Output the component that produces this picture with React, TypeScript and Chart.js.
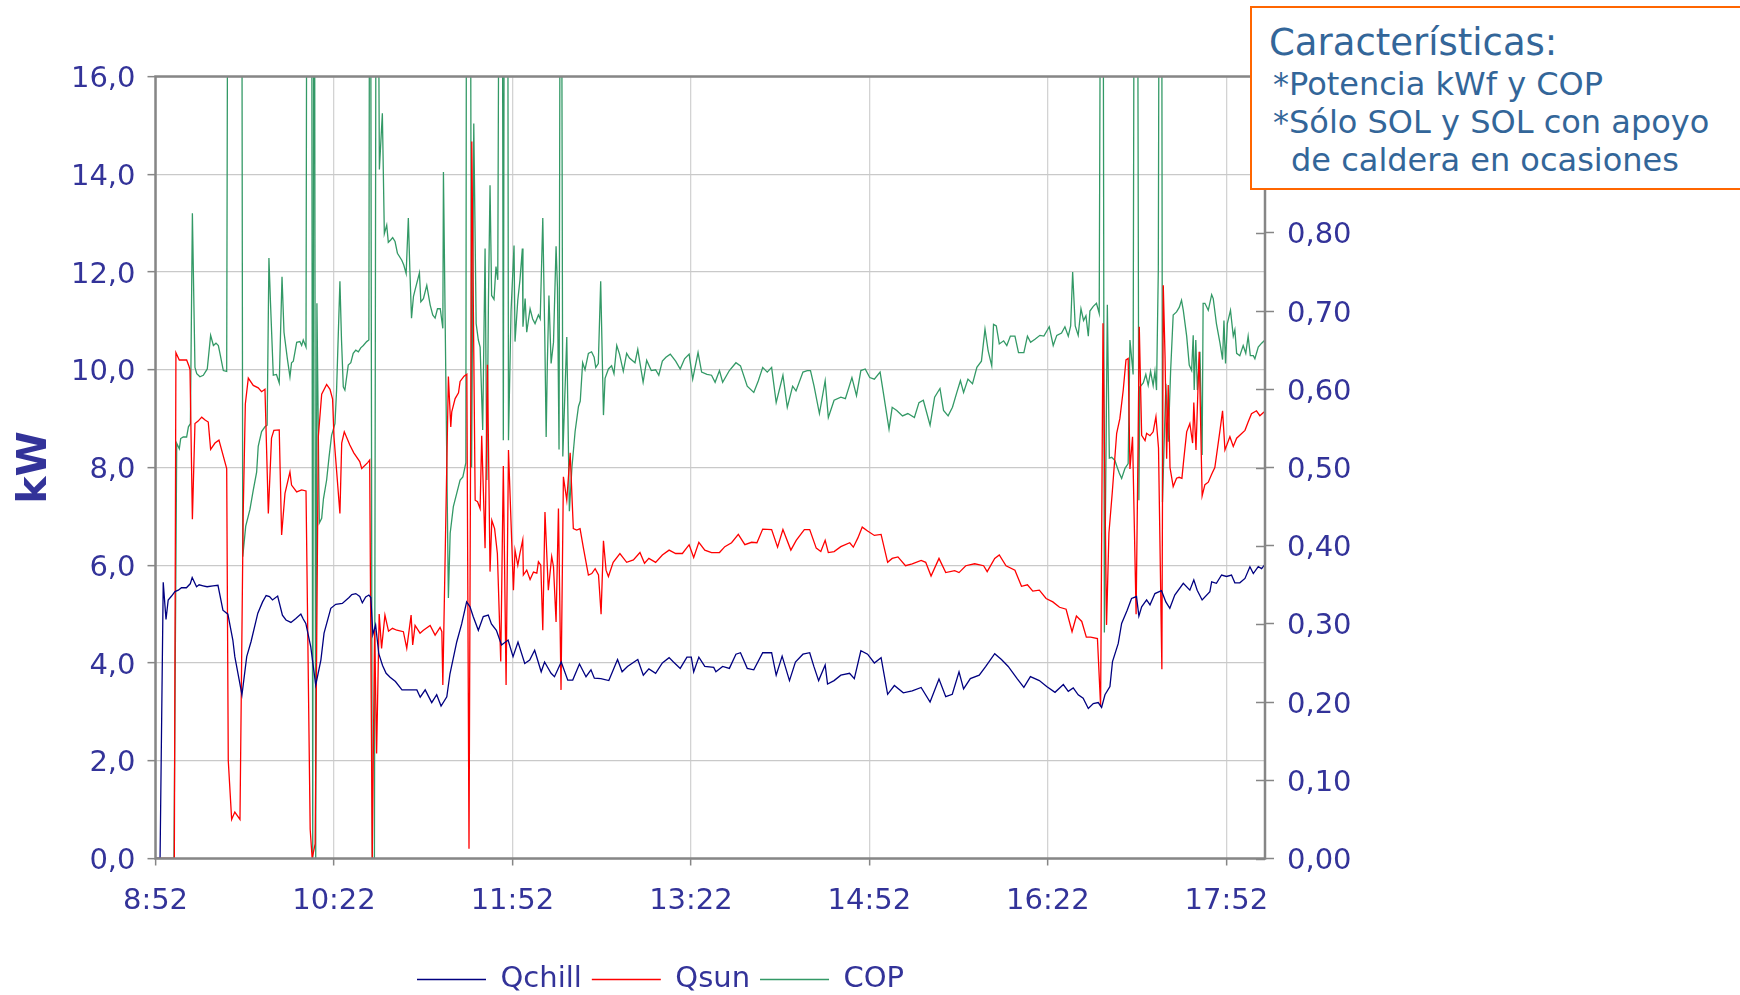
import React, { useEffect, useRef } from 'react';
import { Chart, registerables } from 'chart.js';

Chart.register(...registerables);

const FONT = "'DejaVu Sans', Verdana, sans-serif";
const AXIS_COLOR = '#333399';

// x axis: minutes after 8:52
const X_TICK_MIN = [0, 90, 180, 270, 360, 450, 540];
const X_TICK_LABELS = ['8:52', '10:22', '11:52', '13:22', '14:52', '16:22', '17:52'];
const X_MAX_MIN = 559.5;

// Qchill (kW)
const QCHILL_MIN = [0, 2.3, 3.9, 5.3, 6.4, 8.1, 9.8, 11.5, 13.1, 15.6, 17.5, 18.5, 20.7, 22, 24, 26, 29, 31.5, 34, 36.5, 39, 40, 43.6, 46, 48.2, 51.6, 54, 55.8, 57.5, 59, 61.6, 64, 65.8, 68.3, 70.8, 73.3, 74.5, 75.8, 78.3, 80.8, 83.4, 85, 88.4, 90.9, 94.2, 97.6, 99, 101, 103, 104.3, 106, 107.6, 108.6, 109.6, 111, 112.6, 114.5, 116.3, 118.3, 121, 124.3, 128, 131.8, 133.5, 136, 139.3, 141.8, 144, 146.9, 148.5, 151.9, 154.4, 156.9, 158.6, 160.2, 162.8, 165.3, 167.8, 169.4, 171.9, 174.5, 177.8, 180.3, 182.8, 186.2, 188.7, 191.2, 194.5, 196.2, 199.5, 201.2, 204.6, 207.9, 210.4, 213.8, 217.1, 219.6, 221.3, 224.6, 228.6, 233, 235.3, 238, 243.2, 246, 248.8, 252.2, 255.6, 259, 261.2, 264.6, 268, 270.2, 271.4, 274, 277, 281.5, 282.6, 286, 289.4, 292.7, 295, 298.4, 301.7, 306.2, 310.7, 313, 316, 319.7, 322.7, 326.5, 329.9, 332, 334.4, 337.7, 338.9, 342.2, 345.6, 350, 352.4, 355.7, 359.1, 362.5, 365.9, 369.2, 372.6, 377.1, 381.6, 386.1, 390.6, 395.1, 398.5, 401.8, 405.2, 407.5, 410.9, 415.4, 418.7, 423.2, 426.6, 430, 434.5, 437.9, 441.2, 445.7, 449.4, 453.6, 457.8, 460.3, 462.8, 465.3, 467.8, 470.4, 472.9, 475.4, 477.1, 478.8, 481.3, 482.6, 485.5, 487.2, 490, 492.2, 494.7, 495.9, 497.3, 499.8, 501.5, 504, 507.3, 509.5, 511.5, 514, 518.3, 521.6, 523.6, 525.3, 527.8, 531.7, 532.6, 535, 537.6, 540.1, 542.6, 544.3, 546.8, 549.4, 551.9, 553.6, 556.1, 557.8, 559.5];
const QCHILL_KW = [0, 0, 5.65, 4.89, 5.29, 5.37, 5.46, 5.49, 5.54, 5.54, 5.62, 5.75, 5.56, 5.6, 5.58, 5.56, 5.58, 5.59, 5.08, 5.0, 4.47, 4.13, 3.35, 4.13, 4.44, 5.02, 5.25, 5.38, 5.36, 5.29, 5.37, 4.98, 4.88, 4.83, 4.91, 5.0, 4.9, 4.81, 4.33, 3.55, 4.06, 4.61, 5.12, 5.2, 5.22, 5.34, 5.4, 5.42, 5.36, 5.23, 5.35, 5.39, 5.34, 4.58, 4.78, 4.19, 3.95, 3.79, 3.71, 3.62, 3.45, 3.45, 3.45, 3.3, 3.45, 3.19, 3.35, 3.12, 3.31, 3.78, 4.43, 4.8, 5.25, 5.15, 4.95, 4.67, 4.95, 4.98, 4.8, 4.67, 4.37, 4.47, 4.13, 4.43, 3.99, 4.06, 4.26, 3.82, 4.02, 3.79, 3.72, 4.02, 3.65, 3.65, 3.98, 3.72, 3.86, 3.69, 3.68, 3.64, 4.07, 3.82, 3.93, 4.07, 3.75, 3.88, 3.79, 4.0, 4.11, 4.02, 3.89, 4.12, 4.12, 3.82, 4.12, 3.93, 3.91, 3.82, 3.93, 3.89, 4.18, 4.21, 3.89, 3.86, 4.21, 4.21, 3.75, 4.14, 3.64, 4.02, 4.18, 4.21, 3.93, 3.64, 3.96, 3.57, 3.64, 3.75, 3.79, 3.68, 4.25, 4.18, 4.0, 4.11, 3.36, 3.54, 3.39, 3.43, 3.5, 3.2, 3.67, 3.31, 3.36, 3.82, 3.47, 3.68, 3.75, 3.93, 4.19, 4.07, 3.93, 3.68, 3.5, 3.72, 3.64, 3.52, 3.4, 3.56, 3.42, 3.49, 3.35, 3.28, 3.07, 3.17, 3.19, 3.09, 3.35, 3.52, 4.03, 4.4, 4.81, 5.08, 5.32, 5.36, 4.96, 5.15, 5.29, 5.19, 5.42, 5.48, 5.25, 5.12, 5.39, 5.63, 5.49, 5.7, 5.49, 5.29, 5.46, 5.66, 5.63, 5.8, 5.77, 5.8, 5.64, 5.64, 5.73, 5.97, 5.83, 5.97, 5.93, 6.02];

// Qsun (kW)
const QSUN_MIN = [0, 9.5, 10.3, 12, 15.7, 16.9, 17.4, 18.6, 19.9, 21.5, 23.3, 25, 26.6, 27.8, 30, 32, 35.9, 36.7, 38.4, 40, 42.6, 44.2, 45.3, 46.8, 49.3, 51.8, 53.5, 55.2, 56.9, 58.5, 59.7, 62.4, 63.6, 65.3, 67.8, 68.6, 71.2, 73.7, 75.9, 78, 79, 80.5, 82.1, 83.8, 86.3, 88, 89.3, 90, 93, 93.9, 95.2, 98, 100, 103, 104, 107, 108, 109.3, 110.5, 111.5, 112.8, 114, 115.7, 117.5, 119.5, 121.7, 125, 126.7, 128.9, 129.7, 130.9, 133.4, 135.1, 138.5, 141, 143.5, 144.4, 144.9, 147.7, 148.9, 149.4, 151.1, 152.8, 153.6, 155.6, 157, 158.1, 159.5, 161.2, 162.4, 163.7, 164.5, 166.2, 167.4, 168.7, 169.6, 171, 172.4, 174.1, 175.4, 176.8, 178, 180.5, 181.3, 182.7, 183.8, 185.2, 185.5, 187.2, 188.9, 190.6, 192.3, 193.1, 194.3, 195.3, 196.4, 198.1, 199.8, 200.7, 202, 203.2, 204.5, 205.7, 207.4, 209.1, 210.7, 212.4, 214.1, 215.8, 218.3, 220, 221.7, 223.4, 224.7, 225.9, 227.2, 228.4, 230.8, 234.2, 237.6, 241, 244.3, 246.6, 248.8, 252.2, 255.6, 259, 262.3, 265.7, 269.1, 271.4, 274, 277, 280.4, 284.4, 287.1, 290.5, 293.9, 297.2, 300.6, 303.3, 306.2, 310.7, 313.7, 316.4, 320.4, 323.1, 327.2, 329.9, 333.2, 335.5, 337.7, 339.3, 342.2, 345.6, 350.1, 351.9, 354.2, 356.4, 359.1, 362.5, 365.9, 369.2, 371.5, 374.4, 378.2, 381.6, 386.1, 388.4, 391.1, 395.1, 398.5, 403, 405.2, 408.6, 413.1, 417.6, 419.4, 423.2, 425.5, 428.9, 433.4, 436.7, 439.7, 442.4, 445.7, 449.1, 452.5, 455.9, 459.2, 462.2, 464.4, 467.1, 469.4, 471.6, 475, 476.6, 477.8, 479.6, 480.8, 482.5, 484.7, 486.3, 488, 489.4, 490.5, 491.4, 492.7, 494.5, 495.5, 496.1, 497.3, 499, 499.8, 501.5, 503.1, 504.5, 505.8, 507.5, 508.2, 509.1, 509.9, 510.7, 511.6, 513.2, 514.9, 516.2, 517.6, 518.5, 520, 521.6, 523, 523.6, 524.7, 526.3, 527.8, 529.2, 530.9, 532.6, 534.2, 536.8, 538.1, 539.3, 541.8, 543.5, 545.2, 546.8, 549.4, 551, 552.7, 555.2, 556.9, 558.9, 559.5];
const QSUN_KW = [0, 0, 10.35, 10.2, 10.2, 10.07, 10.0, 6.94, 8.9, 8.95, 9.03, 8.97, 8.93, 8.37, 8.5, 8.56, 7.98, 2.0, 0.8, 0.95, 0.8, 7.0, 9.3, 9.83, 9.68, 9.63, 9.55, 9.6, 7.06, 8.6, 8.76, 8.77, 6.62, 7.47, 7.91, 7.64, 7.5, 7.54, 7.52, 0.6, 0, 0.3, 8.63, 9.5, 9.7, 9.6, 9.4, 8.63, 7.06, 8.5, 8.73, 8.46, 8.3, 8.12, 7.98, 8.1, 8.15, 0, 4.71, 2.15, 5.0, 4.3, 4.98, 4.65, 4.71, 4.67, 4.64, 4.3, 4.98, 4.37, 4.77, 4.61, 4.67, 4.77, 4.57, 4.73, 4.64, 3.55, 9.86, 8.83, 9.14, 9.41, 9.53, 9.76, 9.87, 9.91, 0.2, 14.67, 7.33, 7.3, 7.16, 8.65, 6.35, 10.1, 5.87, 6.92, 6.75, 6.24, 4.03, 8.03, 3.55, 8.36, 5.49, 6.31, 6.0, 6.25, 6.52, 5.8, 5.9, 5.71, 5.86, 5.84, 6.07, 6.0, 4.67, 7.09, 5.49, 6.18, 5.97, 4.84, 7.16, 3.45, 7.81, 7.33, 8.3, 6.75, 6.72, 6.75, 6.35, 5.8, 5.83, 5.93, 5.8, 5.0, 6.5, 5.9, 5.77, 6.06, 6.24, 6.06, 6.11, 6.26, 6.04, 6.14, 6.06, 6.21, 6.31, 6.24, 6.24, 6.42, 6.16, 6.47, 6.31, 6.26, 6.26, 6.38, 6.46, 6.63, 6.42, 6.47, 6.46, 6.74, 6.73, 6.37, 6.73, 6.31, 6.51, 6.73, 6.73, 6.35, 6.28, 6.51, 6.26, 6.28, 6.38, 6.46, 6.37, 6.56, 6.78, 6.7, 6.61, 6.63, 6.06, 6.14, 6.17, 5.99, 6.03, 6.1, 6.06, 5.78, 6.14, 5.85, 5.89, 5.85, 5.99, 6.03, 5.99, 5.87, 6.14, 6.21, 5.99, 5.9, 5.57, 5.6, 5.47, 5.49, 5.32, 5.25, 5.14, 5.1, 4.64, 4.96, 4.85, 4.53, 4.53, 4.5, 3.11, 10.95, 4.78, 6.66, 7.5, 8.7, 9.0, 9.58, 10.2, 10.23, 7.97, 8.63, 5.0, 8.5, 10.88, 8.66, 8.55, 8.7, 8.65, 8.73, 9.04, 8.4, 3.87, 11.73, 10.26, 8.18, 9.69, 8.0, 7.61, 7.78, 7.8, 7.78, 8.15, 8.73, 8.9, 8.5, 9.33, 8.36, 10.37, 7.42, 7.65, 7.7, 7.86, 8.0, 8.76, 9.16, 8.36, 8.63, 8.43, 8.6, 8.66, 8.76, 8.93, 9.1, 9.16, 9.06, 9.13, 9.13];

// COP (right axis); values above 1.0 run off the top of the plot
const COP_MIN = [0, 9.3, 10.7, 12, 12.7, 14, 15.7, 16.6, 17.6, 18.6, 19.9, 20.8, 22.4, 24.1, 26.1, 27.8, 29.2, 30.5, 31.7, 32.5, 34.2, 35.9, 36.8, 43.3, 44, 45.5, 47.6, 49.3, 51, 51.8, 53.5, 55.2, 56.3, 57.2, 58, 59.4, 61, 62.4, 63.8, 64.8, 66.5, 67.8, 68.6, 69.5, 71.2, 72.8, 73.7, 74.5, 75.9, 76.6, 78.6, 79.3, 80, 80.8, 81.4, 82.6, 83.8, 84.7, 86.3, 87.5, 88.8, 90.5, 91.3, 93, 93.8, 94.7, 95.5, 97.2, 98.5, 99.7, 101, 102.3, 103.5, 104.8, 106.5, 107.6, 108.2, 109.3, 110.4, 111.5, 112.9, 114.4, 115.4, 116.6, 117.4, 118.6, 119.6, 120.8, 122, 124.2, 125.2, 126.4, 127.5, 128.3, 129.1, 130.1, 131, 133.1, 133.8, 135.1, 136.8, 138.5, 139.8, 141, 142.2, 143.6, 144.9, 145.2, 147.7, 148.6, 150.2, 151.9, 153.6, 155, 156.5, 157, 158.5, 159.4, 160.5, 161.7, 162.8, 163.7, 165, 166.2, 167.1, 167.9, 168.7, 169.5, 170.7, 171.7, 172.6, 173.8, 174.6, 175.4, 176.2, 177.4, 178, 179.3, 180.8, 181.3, 182.7, 183.8, 185, 185.3, 186.4, 187.2, 188.9, 190.2, 191.4, 193.1, 194, 195.3, 196.3, 197, 197.6, 198.4, 199.5, 200.7, 202, 202.7, 203.5, 204.4, 205.4, 207.4, 208.7, 210, 211.6, 213.3, 214.2, 215.4, 216.6, 218.3, 219.9, 221.2, 222, 223.3, 224.5, 225.9, 226.7, 228.4, 230, 231.2, 232.6, 234, 235.9, 237.6, 239, 241.8, 243.2, 245.9, 247.7, 250, 252.2, 253.8, 255.6, 257.4, 259.6, 262.3, 264.6, 266.8, 269.1, 270.9, 273.6, 275.4, 278.1, 280.4, 282.2, 284.4, 286, 289.4, 292.7, 295, 298.4, 301.7, 304, 306.2, 308.5, 310.7, 313, 316.4, 318.6, 321.3, 323, 326.5, 328.7, 330.3, 332.1, 334.8, 337.7, 339.3, 342.2, 345.6, 347.9, 351.2, 353.5, 355.7, 357.9, 360.2, 362.5, 365.4, 366.9, 369.9, 371.5, 373.8, 376.7, 379.4, 382.7, 385, 387.2, 390.6, 392.9, 395.6, 397.4, 399.7, 401.9, 404.1, 405.9, 407.5, 409.7, 412, 414.2, 416.5, 418.3, 419.9, 421.7, 422.6, 424, 425.5, 427.7, 429.3, 431.1, 433.4, 435.2, 437.9, 439.7, 441.3, 443.5, 446, 448, 450.7, 452.7, 454.5, 456.9, 458.6, 460.3, 461.5, 462.5, 463.8, 465.3, 466.7, 468, 469.2, 470.4, 471.2, 472.9, 474.5, 475.9, 477.1, 477.6, 478.5, 480, 481, 482.2, 483.8, 485, 486, 487.2, 488.9, 490.5, 491.4, 493, 493.9, 494.9, 495.9, 496.4, 498.1, 499.4, 500.6, 501.8, 503.1, 504, 504.8, 505.7, 506.5, 507.2, 507.8, 509.5, 510.7, 511.9, 513.2, 514.9, 516.3, 517.4, 518.3, 520, 521.3, 522.5, 523.3, 523.8, 524.6, 525.4, 526.7, 527.8, 528.3, 529.2, 530.9, 532.6, 533.4, 535, 536.8, 538.1, 538.8, 539.6, 540.5, 542.1, 543.5, 544.3, 545.2, 546.8, 548.5, 549.8, 551, 552.1, 553.6, 554.4, 556.1, 557.8, 559.5];
const COP_VAL = [0, 0, 0.531, 0.524, 0.537, 0.539, 0.539, 0.552, 0.556, 0.825, 0.628, 0.62, 0.616, 0.618, 0.626, 0.669, 0.656, 0.659, 0.656, 0.646, 0.624, 0.623, 1.6, 1.6, 0.386, 0.425, 0.446, 0.471, 0.494, 0.527, 0.546, 0.552, 0.554, 0.768, 0.71, 0.618, 0.619, 0.608, 0.744, 0.673, 0.639, 0.616, 0.634, 0.636, 0.66, 0.661, 0.656, 0.663, 0.654, 1.6, 1.6, 0, 1.6, 0, 0.71, 0.429, 0.435, 0.46, 0.484, 0.513, 0.541, 0.556, 0.598, 0.738, 0.663, 0.603, 0.599, 0.631, 0.634, 0.646, 0.65, 0.648, 0.653, 0.656, 0.661, 0.663, 1.6, 0, 0, 1.6, 0.881, 0.953, 0.799, 0.81, 0.788, 0.791, 0.794, 0.789, 0.774, 0.765, 0.759, 0.748, 0.819, 0.75, 0.691, 0.719, 0.728, 0.749, 0.712, 0.716, 0.733, 0.708, 0.695, 0.691, 0.703, 0.703, 0.678, 0.878, 0.333, 0.416, 0.45, 0.467, 0.484, 0.488, 0.506, 1.6, 1.6, 0.5, 0.94, 0.684, 0.663, 0.654, 0.548, 0.78, 0.484, 0.714, 0.861, 0.72, 0.715, 0.757, 0.74, 1.6, 1.6, 0.535, 1.6, 1.6, 0.535, 0.7, 0.784, 0.661, 0.714, 0.74, 0.78, 0.68, 0.716, 0.673, 0.703, 0.69, 0.684, 0.695, 0.69, 0.819, 0.67, 0.539, 0.633, 0.72, 0.633, 0.66, 0.783, 0.73, 0.523, 1.6, 0.514, 0.667, 0.444, 0.5, 0.546, 0.578, 0.585, 0.634, 0.625, 0.646, 0.648, 0.641, 0.628, 0.633, 0.738, 0.567, 0.614, 0.626, 0.63, 0.62, 0.656, 0.645, 0.623, 0.646, 0.64, 0.634, 0.651, 0.609, 0.637, 0.624, 0.625, 0.618, 0.636, 0.641, 0.645, 0.636, 0.626, 0.639, 0.645, 0.613, 0.647, 0.622, 0.619, 0.618, 0.609, 0.624, 0.609, 0.624, 0.634, 0.63, 0.604, 0.596, 0.611, 0.628, 0.622, 0.628, 0.583, 0.618, 0.577, 0.604, 0.598, 0.622, 0.624, 0.624, 0.604, 0.569, 0.611, 0.564, 0.586, 0.59, 0.588, 0.615, 0.592, 0.624, 0.626, 0.615, 0.613, 0.622, 0.598, 0.549, 0.577, 0.573, 0.566, 0.569, 0.564, 0.583, 0.586, 0.554, 0.59, 0.601, 0.573, 0.566, 0.577, 0.596, 0.611, 0.596, 0.613, 0.607, 0.628, 0.636, 0.677, 0.649, 0.63, 0.683, 0.681, 0.658, 0.662, 0.656, 0.668, 0.668, 0.647, 0.647, 0.668, 0.66, 0.664, 0.669, 0.668, 0.68, 0.656, 0.669, 0.672, 0.68, 0.668, 0.681, 0.75, 0.681, 0.669, 0.703, 0.688, 0.694, 0.668, 0.7, 0.706, 0.71, 0.697, 1.6, 1.6, 0.289, 0.708, 0.512, 0.513, 0.509, 0.5, 0.493, 0.486, 0.499, 0.505, 0.663, 0.619, 1.6, 1.6, 0.458, 0.603, 0.608, 0.619, 0.605, 0.623, 0.605, 0.623, 0.599, 0.753, 1.6, 1.6, 0.456, 0.607, 0.533, 0.623, 0.695, 0.699, 0.705, 0.714, 0.701, 0.668, 0.631, 0.624, 0.669, 0.599, 0.663, 0.599, 0.648, 0.516, 0.71, 0.71, 0.701, 0.721, 0.716, 0.684, 0.659, 0.638, 0.688, 0.633, 0.684, 0.701, 0.668, 0.676, 0.646, 0.643, 0.656, 0.646, 0.668, 0.643, 0.643, 0.639, 0.654, 0.659, 0.663];

const SERIES_NAMES = ['Qchill', 'Qsun', 'COP'];
const NOTE_TITLE = 'Características:';
const NOTE_LINES = ['*Potencia kWf y COP', '*Sólo SOL y SOL con apoyo', 'de caldera en ocasiones'];

const toPoints = (xs: number[], ys: number[]) => xs.map((x, i) => ({ x, y: ys[i] }));

const framePlugin = {
  id: 'frameAndLegendPos',
  afterLayout(chart: any) {
    if (chart.legend) chart.legend.left = 407;
  },
  afterDatasetsDraw(chart: any) {
    const { ctx, chartArea: a } = chart;
    ctx.save();
    ctx.strokeStyle = '#868686';
    ctx.lineWidth = 2.5;
    ctx.strokeRect(a.left, a.top, a.right - a.left, a.bottom - a.top);
    const y1 = chart.scales.y1;
    ctx.lineWidth = 1.5;
    y1.ticks.forEach((_t: any, i: number) => {
      const p = Math.round(y1.getPixelForTick(i)) + 0.5;
      ctx.beginPath();
      ctx.moveTo(a.right - 9, p);
      ctx.lineTo(a.right, p);
      ctx.stroke();
    });
    ctx.restore();
  },
};

export default function App() {
  const ref = useRef<HTMLCanvasElement | null>(null);

  useEffect(() => {
    if (!ref.current) return;
    const tickFont = { family: FONT, size: 29 };
    const chart = new Chart(ref.current, {
      type: 'line',
      data: {
        datasets: [
          { label: SERIES_NAMES[0], data: toPoints(QCHILL_MIN, QCHILL_KW), borderColor: '#000080', backgroundColor: '#000080', borderWidth: 1.3, pointRadius: 0, tension: 0, yAxisID: 'y' },
          { label: SERIES_NAMES[1], data: toPoints(QSUN_MIN, QSUN_KW), borderColor: '#FF0000', backgroundColor: '#FF0000', borderWidth: 1.3, pointRadius: 0, tension: 0, yAxisID: 'y' },
          { label: SERIES_NAMES[2], data: toPoints(COP_MIN, COP_VAL), borderColor: '#339966', backgroundColor: '#339966', borderWidth: 1.3, pointRadius: 0, tension: 0, yAxisID: 'y1' },
        ],
      } as any,
      options: {
        animation: false,
        responsive: true,
        maintainAspectRatio: false,
        parsing: true,
        layout: { padding: { left: 0, right: 0, top: 76.5, bottom: 0 } },
        plugins: {
          legend: {
            position: 'bottom',
            align: 'start',
            labels: {
              usePointStyle: true,
              pointStyle: 'line',
              pointStyleWidth: 69,
              boxHeight: 29,
              font: tickFont,
              color: AXIS_COLOR,
              padding: 10,
            },
          },
          tooltip: { enabled: false },
        },
        scales: {
          x: {
            type: 'linear',
            min: 0,
            max: X_MAX_MIN,
            afterBuildTicks: (s: any) => { s.ticks = X_TICK_MIN.map((v) => ({ value: v })); },
            afterFit: (s: any) => { s.height = 96.5; },
            ticks: {
              callback: (_v: any, i: number) => X_TICK_LABELS[i],
              font: tickFont,
              color: AXIS_COLOR,
              maxRotation: 0,
              autoSkip: false,
              padding: 19,
            },
            grid: { color: '#D3D3D3', lineWidth: 1.3, tickColor: '#868686', tickLength: 7, tickWidth: 1.5 },
            border: { display: false },
          },
          y: {
            position: 'left',
            min: 0,
            max: 16,
            afterFit: (s: any) => { s.width = 155.5; },
            ticks: {
              stepSize: 2,
              callback: (v: any) => Number(v).toFixed(1).replace('.', ','),
              font: tickFont,
              color: AXIS_COLOR,
              padding: 12,
              labelOffset: 3,
            },
            grid: { color: '#C9C9C9', lineWidth: 1.3, tickColor: '#868686', tickLength: 8, tickWidth: 1.5 },
            border: { display: false },
            title: {
              display: true,
              text: 'kW',
              color: AXIS_COLOR,
              font: { family: FONT, size: 41, weight: 'bold' },
              padding: { top: 11, bottom: 0 },
            },
          },
          y1: {
            position: 'right',
            min: 0,
            max: 1,
            afterFit: (s: any) => { s.width = 475; },
            ticks: {
              stepSize: 0.1,
              callback: (v: any) => Number(v).toFixed(2).replace('.', ','),
              font: tickFont,
              color: AXIS_COLOR,
              padding: 13,
              labelOffset: 3,
            },
            grid: { drawOnChartArea: false, tickColor: '#868686', tickLength: 9, tickWidth: 1.5 },
            border: { display: false },
          },
        },
      } as any,
      plugins: [framePlugin],
    });
    return () => chart.destroy();
  }, []);

  const noteText = { position: 'absolute' as const, fontFamily: FONT, color: '#336699', whiteSpace: 'pre' as const, margin: 0 };

  return (
    <div style={{ position: 'fixed', left: 0, top: 0, width: 1740, height: 1004, background: '#fff' }}>
      <div style={{ position: 'absolute', left: 0, top: 0, width: 1740, height: 1004 }}>
        <canvas ref={ref} />
      </div>
      <div style={{ position: 'absolute', left: 1250, top: 6, width: 520, height: 184, boxSizing: 'border-box', border: '2px solid #FF6600', background: '#fff' }} />
      <div style={{ ...noteText, left: 1269, top: 23.5, fontSize: 37, lineHeight: '37px' }}>{NOTE_TITLE}</div>
      <div style={{ ...noteText, left: 1273, top: 68, fontSize: 32, lineHeight: '32px' }}>{NOTE_LINES[0]}</div>
      <div style={{ ...noteText, left: 1273, top: 106, fontSize: 32, lineHeight: '32px' }}>{NOTE_LINES[1]}</div>
      <div style={{ ...noteText, left: 1291, top: 143.5, fontSize: 32, lineHeight: '32px' }}>{NOTE_LINES[2]}</div>
    </div>
  );
}
